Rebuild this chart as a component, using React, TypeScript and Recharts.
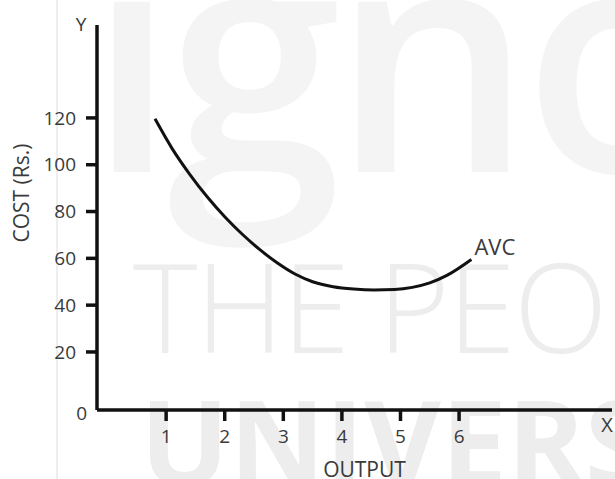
import { LineChart, Line, XAxis, YAxis, Label, LabelList } from 'recharts';

// AVC curve
const output = [0.81, 1.1, 1.4, 1.7, 2.0, 2.3, 2.6, 2.9, 3.2, 3.5, 3.85, 4.2, 4.55, 4.9, 5.2, 5.5, 5.8, 6.21];
const avc = [119.6, 107, 96, 86.3, 77.8, 70.3, 63.7, 58, 53.3, 50, 47.9, 46.9, 46.5, 46.7, 47.6, 49.5, 52.8, 59.5];

const xTicks = [1, 2, 3, 4, 5, 6];
// the drawing puts its "0" a bit below where 20-unit spacing would
const yOrigin = -4.8;
const yTicks = [yOrigin, 20, 40, 60, 80, 100, 120];

const data = output.map((q, i) => ({ q, cost: avc[i] }));

const W = 615;
const H = 479;
const INK = '#111';
const TEXT = '#3a3a3a';
const FONT = '"Open Sans", "Liberation Sans", sans-serif';
const TICK_SIZE = 11;
const Y_TICK_MARGIN = 10;

function YTick(props: any) {
    const { x, y, payload } = props;
    const isOrigin = payload.value === yOrigin;
    const lineX = x + Y_TICK_MARGIN;
    return (
        <g>
            {!isOrigin && (
                <line x1={lineX} x2={lineX + TICK_SIZE} y1={y} y2={y} stroke={INK} strokeWidth={3.5} />
            )}
            <text
                x={isOrigin ? x + TICK_SIZE : x}
                y={isOrigin ? y + 3 : y}
                dy="0.35em"
                textAnchor="end"
                fill={TEXT}
                fontSize={19}
                fontFamily={FONT}
            >
                {isOrigin ? '0' : payload.value}
            </text>
        </g>
    );
}

// faint ignou watermark behind the drawing
function Watermark() {
    return (
        <svg width={W} height={H} style={{ position: 'absolute', left: 0, top: 0 }}>
            <line x1={57} x2={57} y1={0} y2={H} stroke="#e8e8e8" strokeWidth={1.5} />
            <text x={88} y={172} fill="#f4f4f4" fontSize={315} fontWeight={600} fontFamily={FONT} letterSpacing={-9}>ignou</text>
            <text x={133} y={353} fill="#ededed" fontSize={123} fontWeight={300} fontFamily={FONT} letterSpacing={-2}>THE PEOPLE'S</text>
            <text x={140} y={486} fill="#ededed" fontSize={118} fontWeight={700} fontFamily={FONT}>UNIVERSITY</text>
        </svg>
    );
}

export default function App() {
    return (
        <div style={{ position: 'absolute', left: 0, top: 0, width: W, height: H, background: '#fff', overflow: 'hidden' }}>
            <Watermark />
            <div style={{ position: 'absolute', left: 0, top: 0 }}>
                <LineChart width={W} height={H} data={data} margin={{ top: 25, right: 3, bottom: 9, left: 37 }}>
                    <XAxis
                        dataKey="q"
                        type="number"
                        domain={[-0.18, 8.61]}
                        ticks={xTicks}
                        height={60}
                        tickSize={TICK_SIZE}
                        tickMargin={9}
                        axisLine={{ stroke: INK, strokeWidth: 3.5 }}
                        tickLine={{ stroke: INK, strokeWidth: 3.5 }}
                        tick={{ fill: TEXT, fontSize: 19, fontFamily: FONT }}
                        allowDataOverflow
                    >
                        <Label
                            content={({ viewBox }: any) => (
                                <g fontFamily={FONT} fill={TEXT}>
                                    <text x={viewBox.x + viewBox.width / 2 + 10} y={viewBox.y + 67} textAnchor="middle" fontSize={21}>
                                        OUTPUT
                                    </text>
                                    <text x={viewBox.x + viewBox.width - 5} y={viewBox.y + 22} textAnchor="middle" fontSize={20}>
                                        X
                                    </text>
                                </g>
                            )}
                        />
                    </XAxis>
                    <YAxis
                        type="number"
                        domain={[yOrigin, 159.7]}
                        ticks={yTicks}
                        width={60}
                        tickSize={TICK_SIZE}
                        tickMargin={Y_TICK_MARGIN}
                        axisLine={{ stroke: INK, strokeWidth: 3.5 }}
                        tickLine={false}
                        tick={<YTick />}
                        allowDataOverflow
                    >
                        <Label
                            content={({ viewBox }: any) => {
                                const cx = viewBox.x - 15;
                                const cy = viewBox.y + 168;
                                return (
                                    <g fontFamily={FONT} fill={TEXT}>
                                        <text
                                            x={cx}
                                            y={cy}
                                            dy="0.35em"
                                            textAnchor="middle"
                                            fontSize={21}
                                            transform={`rotate(-90, ${cx}, ${cy})`}
                                        >
                                            COST (Rs.)
                                        </text>
                                        <text x={viewBox.x + viewBox.width - 16} y={viewBox.y - 1} dy="0.35em" textAnchor="middle" fontSize={19}>
                                            Y
                                        </text>
                                    </g>
                                );
                            }}
                        />
                    </YAxis>
                    <Line
                        dataKey="cost"
                        type="monotone"
                        stroke={INK}
                        strokeWidth={3}
                        dot={false}
                        activeDot={false}
                        isAnimationActive={false}
                    >
                        <LabelList
                            dataKey="cost"
                            content={(p: any) =>
                                p.index === data.length - 1 ? (
                                    <text x={p.x + 3} y={p.y - 12} dy="0.35em" fill={TEXT} fontSize={22} fontFamily={FONT}>
                                        AVC
                                    </text>
                                ) : null
                            }
                        />
                    </Line>
                </LineChart>
            </div>
        </div>
    );
}
